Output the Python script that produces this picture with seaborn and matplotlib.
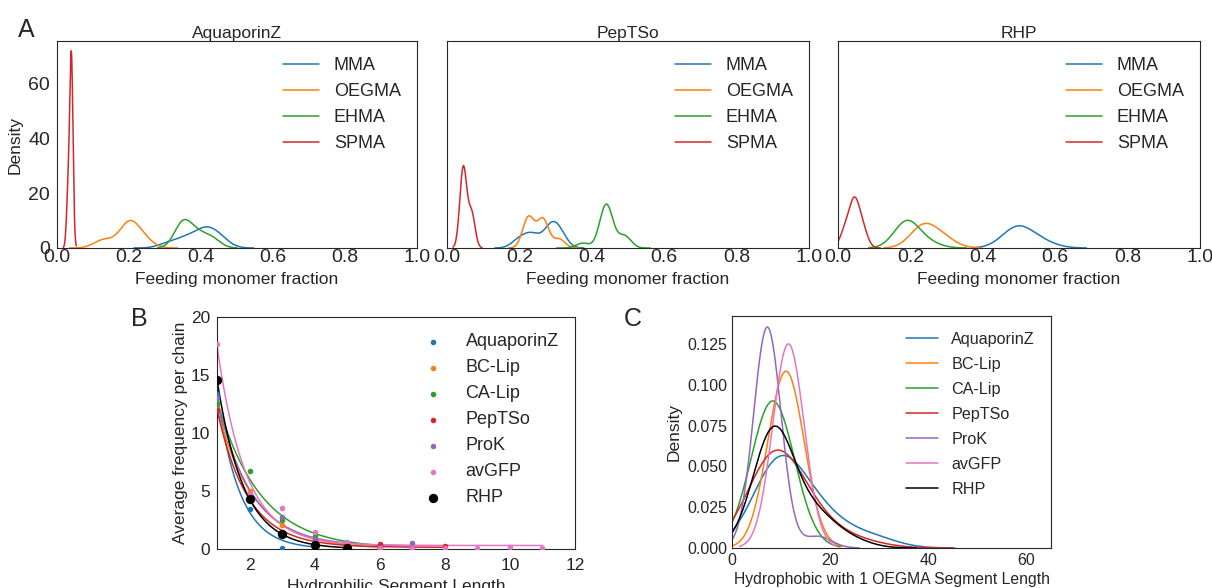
import numpy as np
import matplotlib
matplotlib.use("Agg")
import matplotlib.pyplot as plt
import seaborn as sns

sns.set_style("white")
plt.rcParams['font.family'] = ['Liberation Sans', 'DejaVu Sans']

# ---- panel A: feeding monomer fraction, kde of weighted centres ----
monomers = ["MMA", "OEGMA", "EHMA", "SPMA"]
monomer_colors = ["#1f77b4", "#ff7f0e", "#2ca02c", "#d62728"]
feed_titles = ["AquaporinZ", "PepTSo", "RHP"]

# each entry: (centres, weights, bandwidth)
feed_aqpz = {
    "MMA": ([0.31, 0.36, 0.41, 0.45], [0.12, 0.23, 0.40, 0.25], 0.028),
    "OEGMA": ([0.13, 0.20, 0.24], [0.20, 0.60, 0.20], 0.027),
    "EHMA": ([0.35, 0.39, 0.43], [0.55, 0.25, 0.20], 0.024),
    "SPMA": ([0.031, 0.04], [0.22, 0.78], 0.0045),
}
feed_peptso = {
    "MMA": ([0.20, 0.235, 0.285, 0.31], [0.16, 0.24, 0.34, 0.26], 0.021),
    "OEGMA": ([0.225, 0.265, 0.31], [0.45, 0.42, 0.13], 0.016),
    "EHMA": ([0.375, 0.44, 0.49], [0.08, 0.72, 0.20], 0.018),
    "SPMA": ([0.045, 0.068], [0.70, 0.30], 0.0095),
}
feed_rhp = {
    "MMA": ([0.495, 0.56], [0.78, 0.22], 0.042),
    "OEGMA": ([0.235, 0.29], [0.70, 0.30], 0.036),
    "EHMA": ([0.19, 0.25], [0.85, 0.15], 0.035),
    "SPMA": ([0.02, 0.045, 0.068], [0.22, 0.55, 0.23], 0.014),
}

# ---- panel B: hydrophilic segment length frequency ----
seg_names = ["AquaporinZ", "BC-Lip", "CA-Lip", "PepTSo", "ProK", "avGFP", "RHP"]
seg_colors = ["#1f77b4", "#ff7f0e", "#2ca02c", "#d62728", "#9467bd", "#e377c2", "black"]
seg_x = {
    "AquaporinZ": [1, 2, 3, 4],
    "BC-Lip": [1, 2, 3, 4, 5, 6],
    "CA-Lip": [1, 2, 3, 4, 5, 6],
    "PepTSo": [1, 2, 3, 4, 5, 6, 7, 8],
    "ProK": [1, 2, 3, 4, 5, 6, 7],
    "avGFP": [1, 2, 3, 4, 5, 6, 7, 8, 9, 10, 11],
    "RHP": [1, 2, 3, 4, 5],
}
seg_y = {
    "AquaporinZ": [13.4, 3.47, 0.09, 0.3],
    "BC-Lip": [12.1, 5.04, 2.1, 0.85, 0.35, 0.15],
    "CA-Lip": [12.6, 6.73, 2.46, 1.1, 0.4, 0.15],
    "PepTSo": [12.0, 4.4, 1.5, 0.5, 0.2, 0.43, 0.1, 0.25],
    "ProK": [13.0, 4.75, 2.72, 0.9, 0.3, 0.1, 0.5],
    "avGFP": [17.7, 4.7, 3.5, 1.49, 0.6, 0.1, 0.12, 0.1, 0.06, 0.17, 0.1],
    "RHP": [14.6, 4.33, 1.26, 0.37, 0.1],
}

# ---- panel C: hydrophobic segment length, kde ----
hyd_aqpz = ([9.5, 18, 28], [0.68, 0.23, 0.09], 5.3)
hyd_bclip = ([10.5, 11.5], [0.5, 0.5], 3.65)
hyd_calip = ([7.8, 8.8], [0.5, 0.5], 4.4)
hyd_peptso = ([8.7, 17, 26], [0.78, 0.17, 0.05], 5.6)
hyd_prok = ([7.2, 17.5], [0.95, 0.05], 2.8)
hyd_avgfp = ([11, 12], [0.5, 0.5], 3.15)
hyd_rhp = ([8.5, 17, 24], [0.76, 0.19, 0.05], 4.2)
hyd_sets = [hyd_aqpz, hyd_bclip, hyd_calip, hyd_peptso, hyd_prok, hyd_avgfp, hyd_rhp]


def kde_line(ax, spec, color, label):
    centres, weights, bw = spec
    c = np.asarray(centres, float)
    w = np.asarray(weights, float)
    sd = np.sqrt(np.cov(c, aweights=w))
    sns.kdeplot(x=c, weights=w, bw_method=bw / sd, color=color, label=label,
                linewidth=1.1, ax=ax)


def exp_fit(x, y):
    x = np.asarray(x, float)
    y = np.asarray(y, float)
    best = None
    for b in np.linspace(0.2, 3.0, 561):
        e = np.exp(-b * (x - x[0]))
        A = np.column_stack([e, np.ones_like(x)])
        coef = np.linalg.lstsq(A, y, rcond=None)[0]
        if coef[1] < 0:
            coef = np.array([np.dot(e, y) / np.dot(e, e), 0.0])
        sse = np.sum((A @ coef - y) ** 2)
        if best is None or sse < best[0]:
            best = (sse, b, coef)
    _, b, (a, c) = best
    xs = np.linspace(x.min(), x.max(), 200)
    return xs, a * np.exp(-b * (xs - x[0])) + c


def rect(l, t, r, b):
    return [l / 1212, 1 - b / 588, (r - l) / 1212, (b - t) / 588]


fig = plt.figure(figsize=(12.12, 5.88), dpi=100)

axA0 = fig.add_axes(rect(57, 41, 417, 248))
axA1 = fig.add_axes(rect(447, 41, 809, 248), sharey=axA0)
axA2 = fig.add_axes(rect(838, 41, 1200, 248), sharey=axA0)
axB = fig.add_axes(rect(217, 317, 575, 549))
axC = fig.add_axes(rect(732, 316, 1051, 548))

for ax, title, feed in zip([axA0, axA1, axA2], feed_titles, [feed_aqpz, feed_peptso, feed_rhp]):
    for m, col in zip(monomers, monomer_colors):
        kde_line(ax, feed[m], col, m)
    ax.set_xlim(0, 1)
    ax.set_xticks([0, 0.2, 0.4, 0.6, 0.8, 1.0])
    ax.set_title(title, fontsize=12.5, pad=2)
    ax.set_xlabel("Feeding monomer fraction", fontsize=12.5)
    ax.set_ylabel("")
    ax.tick_params(axis='x', length=0, pad=0.7, labelsize=14)
    ax.tick_params(axis='y', length=0, pad=5, labelsize=14)
    ax.legend(loc="upper right", frameon=False, fontsize=13)
axA0.set_ylabel("Density", fontsize=12.5)
axA0.set_yticks([0, 20, 40, 60])
axA1.tick_params(axis='y', labelleft=False)
axA2.tick_params(axis='y', labelleft=False)

# panel B
for name, col in zip(seg_names, seg_colors):
    xs, ys = exp_fit(seg_x[name], seg_y[name])
    sns.lineplot(x=xs, y=ys, color=col, linewidth=1.1, estimator=None, legend=False, ax=axB)
for name, col in zip(seg_names, seg_colors):
    size = 45 if name == "RHP" else 16
    sns.scatterplot(x=seg_x[name], y=seg_y[name], color=col, s=size, linewidth=0,
                    label=name, zorder=3, ax=axB)
axB.set_xlim(1, 12)
axB.set_ylim(0, 20)
axB.set_xticks([2, 4, 6, 8, 10, 12])
axB.set_yticks([0, 5, 10, 15, 20])
axB.set_xlabel("Hydrophilic Segment Length", fontsize=12.5)
axB.set_ylabel("Average frequency per chain", fontsize=12.5, labelpad=2)
axB.tick_params(axis='x', length=0, pad=6.5, labelsize=12.5)
axB.tick_params(axis='y', length=0, pad=5, labelsize=12.5)
axB.legend(loc="upper right", frameon=False, fontsize=13)

# panel C
for spec, name, col in zip(hyd_sets, seg_names, seg_colors):
    kde_line(axC, spec, col, name)
axC.set_xlim(0, 65)
axC.set_xticks([0, 20, 40, 60])
axC.set_xlabel("Hydrophobic with 1 OEGMA Segment Length", fontsize=11.3, labelpad=3)
axC.set_ylabel("Density", fontsize=12.5)
axC.tick_params(axis='x', length=0, pad=3.6, labelsize=11.5)
axC.tick_params(axis='y', length=0, pad=3.6, labelsize=11.5)
axC.legend(loc="upper right", frameon=False, fontsize=11.6, labelspacing=0.62,
           borderaxespad=0.6)

fig.text(18 / 1212, 1 - 37 / 588, "A", fontsize=18)
fig.text(131 / 1212, 1 - 326 / 588, "B", fontsize=18)
fig.text(624 / 1212, 1 - 326 / 588, "C", fontsize=18)

fig.savefig("out.png", dpi=100)
